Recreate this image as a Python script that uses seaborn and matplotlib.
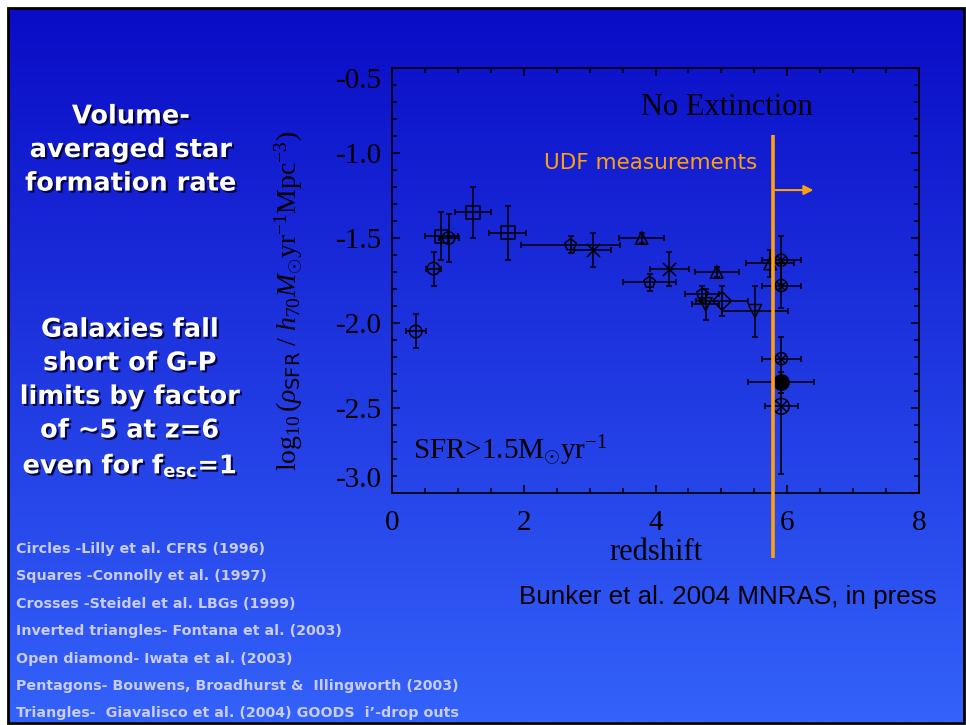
import matplotlib
matplotlib.use("Agg")
import matplotlib.pyplot as plt
import matplotlib.patheffects as pe
import numpy as np
import seaborn as sns
from matplotlib.patches import Rectangle
from matplotlib.ticker import FormatStrFormatter, MultipleLocator

# Values: redshift, log10 SFR density, and half-widths of the bars.
# Lilly et al. CFRS (1996) - circles
cfrs_z = [0.36, 0.63, 0.86]
cfrs_sfr = [-2.05, -1.68, -1.50]
cfrs_zerr = [0.15, 0.12, 0.15]
cfrs_sfrerr = [0.10, 0.10, 0.14]

# Connolly et al. (1997) - squares
connolly_z = [0.75, 1.23, 1.76]
connolly_sfr = [-1.49, -1.35, -1.47]
connolly_zerr = [0.25, 0.27, 0.28]
connolly_sfrerr = [0.14, 0.15, 0.16]

# Steidel et al. LBGs (1999) - crosses
steidel_z = [3.05, 4.21]
steidel_sfr = [-1.57, -1.68]
steidel_zerr = [0.28, 0.30]
steidel_sfrerr = [0.10, 0.10]

# Bouwens, Broadhurst & Illingworth (2003) - pentagons
bouwens_z = [2.71, 3.91, 4.71]
bouwens_sfr = [-1.54, -1.76, -1.83]
bouwens_zerr = [0.75, 0.40, 0.26]
bouwens_sfrerr = [0.05, 0.05, 0.05]

# Giavalisco et al. (2004) GOODS - triangles
goods_z = [3.79, 4.93, 5.74]
goods_sfr = [-1.50, -1.70, -1.65]
goods_zerr = [0.34, 0.33, 0.36]
goods_sfrerr = [0.03, 0.03, 0.08]

# Fontana et al. (2003) - inverted triangles
fontana_z = [4.76, 5.51]
fontana_sfr = [-1.89, -1.93]
fontana_zerr = [0.20, 0.50]
fontana_sfrerr = [0.09, 0.15]

# Iwata et al. (2003) - open diamond
iwata_z = [5.01]
iwata_sfr = [-1.87]
iwata_zerr = [0.40]
iwata_sfrerr = [0.09]

# UDF measurements (Bunker et al. 2004)
udf_z = [5.91, 5.91, 5.91]
udf_sfr = [-1.63, -1.78, -2.21]
udf_zerr = [0.30, 0.30, 0.30]
udf_sfrerr = [0.14, 0.13, 0.13]

udf_main_z = [5.91]
udf_main_sfr = [-2.35]
udf_main_zerr = [0.50]
udf_main_sfrerr = [0.06]

udf_limit_z = [5.91]
udf_limit_sfr = [-2.49]
udf_limit_zerr = [0.25]
udf_limit_sfr_lo = [0.40]
udf_limit_sfr_hi = [0.08]

udf_line_z = 5.78

left_title = "Volume-\naveraged star\nformation rate"
left_note = "Galaxies fall\nshort of G-P\nlimits by factor\nof ~5 at z=6\neven for f$_{\\mathbf{esc}}$=1"
legend_lines = [
    "Circles -Lilly et al. CFRS (1996)",
    "Squares -Connolly et al. (1997)",
    "Crosses -Steidel et al. LBGs (1999)",
    "Inverted triangles- Fontana et al. (2003)",
    "Open diamond- Iwata et al. (2003)",
    "Pentagons- Bouwens, Broadhurst &  Illingworth (2003)",
    "Triangles-  Giavalisco et al. (2004) GOODS  i\u2019-drop outs",
]

sns.set_style("ticks")
plt.rcParams["font.family"] = ["DejaVu Sans"]
plt.rcParams["axes.unicode_minus"] = False
plt.rcParams["mathtext.fontset"] = "custom"
plt.rcParams["mathtext.rm"] = "Liberation Serif"
plt.rcParams["mathtext.it"] = "Liberation Serif:italic"
plt.rcParams["mathtext.bf"] = "DejaVu Sans:bold"
plt.rcParams["mathtext.sf"] = "DejaVu Sans"

W, H = 966, 725
fig = plt.figure(figsize=(W / 100, H / 100), dpi=100, facecolor="white")

# slide background: vertical blue gradient inside a thin black frame
bg = fig.add_axes([0, 0, 1, 1], zorder=-10)
bg.set_xlim(0, W)
bg.set_ylim(H, 0)
bg.axis("off")
top = np.array([10, 12, 198]) / 255
bot = np.array([52, 98, 250]) / 255
t = np.linspace(0, 1, 256)[:, None]
grad = (top[None, :] * (1 - t) + bot[None, :] * t)[:, None, :]
bg.imshow(grad, extent=(8, 964, 722, 8), aspect="auto", interpolation="bilinear")
bg.add_patch(Rectangle((7.5, 8), 956.5, 714.5, fill=False, ec="black", lw=2.0))

shadow = [pe.withSimplePatchShadow(offset=(1.5, -1.5), shadow_rgbFace="#000030", alpha=0.9)]
bg.text(131, 150, left_title, ha="center", va="center", color="white", fontsize=18.5,
        fontweight="bold", linespacing=1.38, path_effects=shadow)
bg.text(130, 398, left_note, ha="center", va="center", color="white", fontsize=18.5,
        fontweight="bold", linespacing=1.38, path_effects=shadow)
for i, line in enumerate(legend_lines):
    bg.text(16, 549 + i * 27.4, line, ha="left", va="center", color="#c8ccff",
            fontsize=10.3, fontweight="bold")
bg.text(937, 597, "Bunker et al. 2004 MNRAS, in press", ha="right", va="center",
        color="black", fontsize=18.7, family="Liberation Sans")

ax = fig.add_axes([392 / W, (H - 493) / H, 527 / W, 425 / H])
ax.set_facecolor("none")


def draw(z, sfr, zerr, sfrerr, marker, size, face="none"):
    ax.errorbar(z, sfr, xerr=zerr, yerr=sfrerr, fmt="none", ecolor="black",
                elinewidth=1.1, capsize=2.5, capthick=1.1, zorder=3)
    if marker in ("x", "+"):
        sns.scatterplot(x=z, y=sfr, marker=marker, s=size, color="black",
                        linewidth=1.1, ax=ax, zorder=4)
    else:
        sns.scatterplot(x=z, y=sfr, marker=marker, s=size, color=face,
                        edgecolor="black", linewidth=1.1, ax=ax, zorder=4)


draw(cfrs_z, cfrs_sfr, cfrs_zerr, cfrs_sfrerr, "o", 80)
draw(connolly_z, connolly_sfr, connolly_zerr, connolly_sfrerr, "s", 90)
draw(steidel_z, steidel_sfr, steidel_zerr, steidel_sfrerr, "x", 90)
draw(bouwens_z, bouwens_sfr, bouwens_zerr, bouwens_sfrerr, "p", 75)
draw(goods_z, goods_sfr, goods_zerr, goods_sfrerr, "^", 80)
draw(fontana_z, fontana_sfr, fontana_zerr, fontana_sfrerr, "v", 90)
draw(iwata_z, iwata_sfr, iwata_zerr, iwata_sfrerr, "D", 90)
draw(udf_z, udf_sfr, udf_zerr, udf_sfrerr, "o", 75)
sns.scatterplot(x=udf_z, y=udf_sfr, marker="x", s=38, color="black", linewidth=1.0, ax=ax, zorder=4)
draw(udf_main_z, udf_main_sfr, udf_main_zerr, udf_main_sfrerr, "o", 120, face="black")
draw(udf_limit_z, udf_limit_sfr, udf_limit_zerr, [udf_limit_sfr_lo, udf_limit_sfr_hi], "o", 130)
sns.scatterplot(x=udf_limit_z, y=udf_limit_sfr, marker="x", s=65, color="black", linewidth=1.1, ax=ax, zorder=4)

# UDF marker line with arrow
ax.plot([udf_line_z, udf_line_z], [-0.894, -3.382], color="#ffa010", lw=2.6,
        clip_on=False, zorder=6, solid_capstyle="butt")
ax.annotate("", xy=(6.44, -1.218), xytext=(udf_line_z, -1.218),
            arrowprops=dict(arrowstyle="-|>", color="#ffa010", lw=1.5, mutation_scale=14),
            zorder=6)
ax.text(5.55, -1.06, "UDF measurements", ha="right", va="center", color="#ffa010",
        fontsize=15.5)
ax.text(5.08, -0.735, "No Extinction", ha="center", va="center", color="black",
        fontsize=22, family="Liberation Serif")
ax.text(0.32, -2.75, "SFR>1.5M$_{\\odot}$yr$^{-1}$", ha="left", va="center",
        color="black", fontsize=21, family="Liberation Serif")

ax.set_xlim(0, 8)
ax.set_ylim(-3.0, -0.5)
ax.xaxis.set_major_locator(MultipleLocator(2))
ax.xaxis.set_minor_locator(MultipleLocator(0.5))
ax.yaxis.set_major_locator(MultipleLocator(0.5))
ax.yaxis.set_minor_locator(MultipleLocator(0.1))
ax.yaxis.set_major_formatter(FormatStrFormatter("%.1f"))
ax.tick_params(which="both", direction="in", top=True, right=True, color="black",
               width=1.1, labelsize=21, labelcolor="black")
ax.tick_params(which="major", length=5.5)
ax.tick_params(which="minor", length=3.5)
ax.tick_params(axis="x", which="major", pad=12)
ax.tick_params(axis="y", which="major", pad=7)
for sp in ax.spines.values():
    sp.set_color("black")
    sp.set_linewidth(1.2)
    sp.set_visible(True)

ax.set_xlabel("redshift", fontsize=22, family="Liberation Serif", color="black", labelpad=2)
ax.set_ylabel("$\\log_{10}(\\rho_{\\mathsf{SFR}}\\ /\\ h_{70}M_{\\odot}\\mathrm{yr}^{-1}\\mathrm{Mpc}^{-3})$",
              fontsize=20, color="black")
ax.yaxis.set_label_coords(-0.165, 0.453)

fig.canvas.draw()
for lab in ax.get_xticklabels() + ax.get_yticklabels():
    lab.set_family("Liberation Serif")
    # edge labels sit inside the frame as on the slide
    if lab.get_text() == "-3.0":
        lab.set_va("bottom")
    elif lab.get_text() == "-0.5":
        lab.set_va("top")

fig.savefig("out.png", dpi=100, facecolor="white")
